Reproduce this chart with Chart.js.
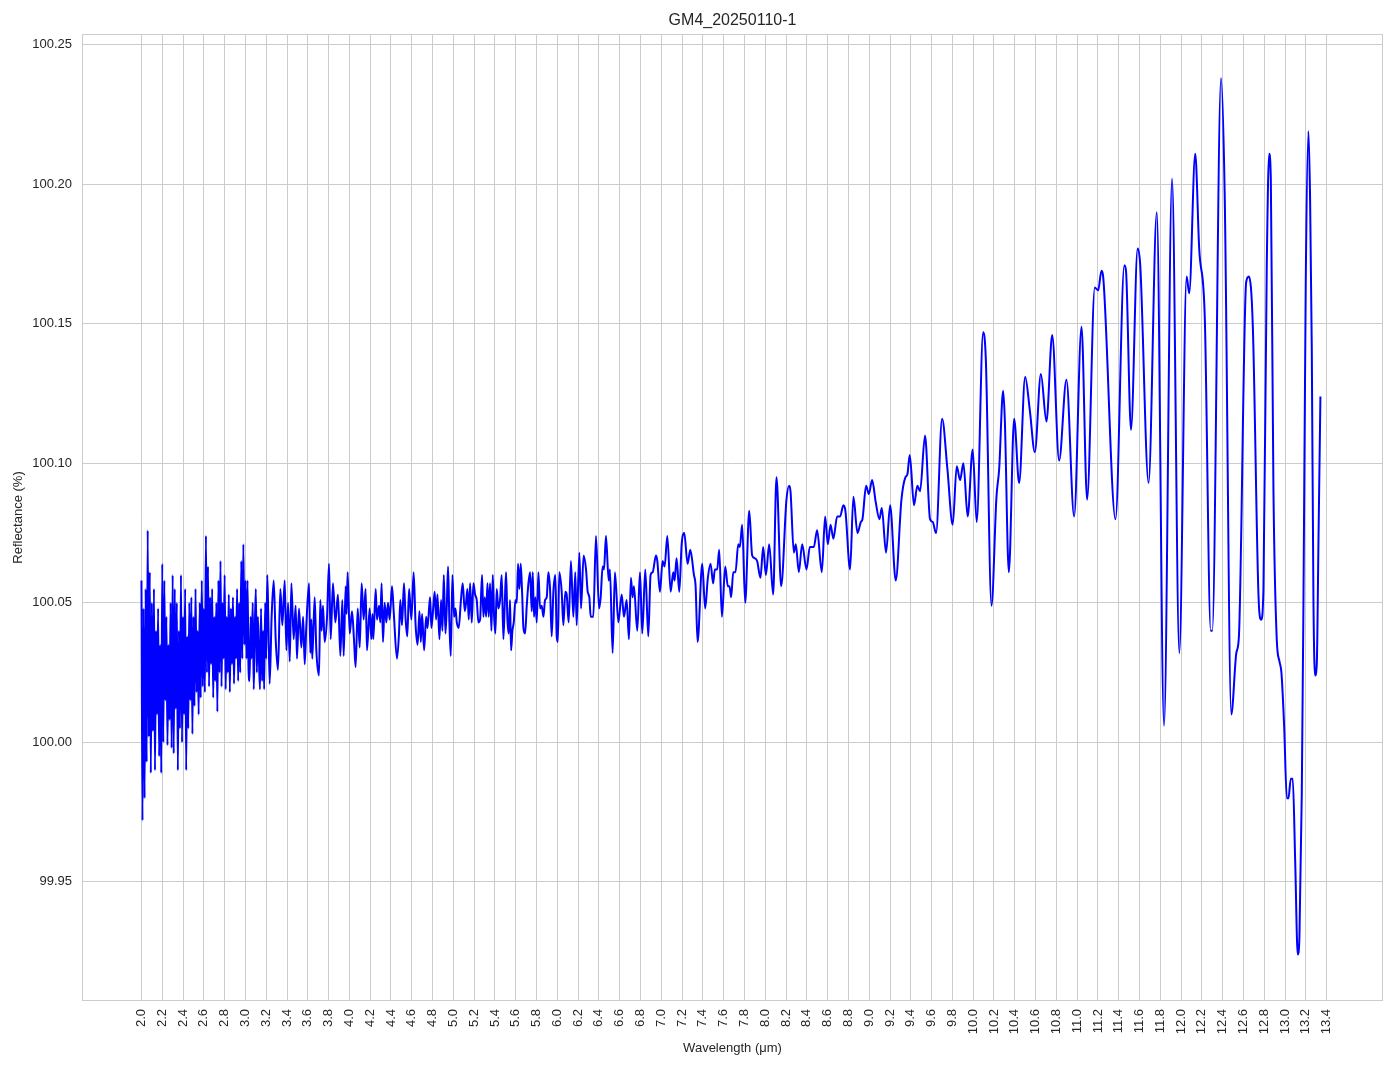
<!DOCTYPE html>
<html lang="en">
<head>
    <meta charset="UTF-8">
    <title>GM4_20250110-1</title>
    <script src="https://cdn.jsdelivr.net/npm/chart.js"></script>
    <style>
        body { margin: 0; background: #ffffff; }
    </style>
</head>
<body>
<canvas id="spectrumChart" width="1394" height="1069"></canvas>
<script>
    // Dense, noisy part of the spectrum: evenly spaced samples from 2.00 µm
    const noisyStart = 2.0;
    const noisyStep = 0.01;
    const noisyReflectance = [
        100.058, 99.972, 100.048, 99.980, 100.055, 99.993, 100.076, 100.002, 100.061, 99.989,
        100.050, 100.004, 100.055, 99.990, 100.040, 100.010, 100.048, 99.995, 100.035, 99.989,
        100.064, 100.000, 100.058, 100.015, 100.045, 99.999, 100.035, 100.008, 100.050, 99.998,
        100.060, 99.996, 100.055, 100.012, 100.050, 99.990, 100.040, 100.005, 100.060, 100.000,
        100.045, 100.010, 100.055, 99.990, 100.038, 100.005, 100.050, 100.015, 100.052, 100.003,
        100.045, 100.013, 100.055, 100.018, 100.040, 100.010, 100.050, 100.016, 100.058, 100.020,
        100.048, 100.018, 100.074, 100.025, 100.063, 100.020, 100.052, 100.028, 100.055, 100.016,
        100.045, 100.022, 100.050, 100.011, 100.058, 100.025, 100.065, 100.020, 100.050, 100.030,
        100.060, 100.019, 100.045, 100.025, 100.053, 100.018, 100.048, 100.028, 100.052, 100.021,
        100.045, 100.030, 100.055, 100.022, 100.050, 100.025, 100.065, 100.030, 100.071, 100.035,
        100.058, 100.030, 100.058, 100.026, 100.022, 100.045, 100.030, 100.050, 100.019, 100.040,
        100.055, 100.025, 100.045, 100.030, 100.019, 100.048, 100.022, 100.040, 100.019, 100.050,
        100.030, 100.060, 100.045
    ];

    // Rest of the spectrum (µm, %)
    const wavelength = [
        3.233, 3.252, 3.272, 3.291, 3.313, 3.336, 3.355, 3.378, 3.394, 3.410,
        3.426, 3.442, 3.464, 3.483, 3.496, 3.515, 3.538, 3.555, 3.570, 3.586,
        3.612, 3.624, 3.634, 3.643, 3.666, 3.682, 3.708, 3.720, 3.733, 3.746,
        3.762, 3.785, 3.804, 3.820, 3.842, 3.865, 3.890, 3.913, 3.932, 3.945,
        3.964, 3.973, 3.983, 4.003, 4.025, 4.044, 4.060, 4.080, 4.099, 4.118,
        4.137, 4.156, 4.169, 4.195, 4.211, 4.222, 4.230, 4.253, 4.265, 4.285,
        4.297, 4.310, 4.323, 4.339, 4.355, 4.371, 4.387, 4.410, 4.426, 4.458,
        4.477, 4.490, 4.506, 4.525, 4.541, 4.557, 4.574, 4.596, 4.618, 4.637,
        4.656, 4.674, 4.687, 4.699, 4.719, 4.738, 4.751, 4.776, 4.789, 4.808,
        4.821, 4.834, 4.847, 4.866, 4.882, 4.895, 4.908, 4.924, 4.937, 4.949,
        4.962, 4.975, 4.991, 5.007, 5.020, 5.033, 5.052, 5.071, 5.090, 5.110,
        5.122, 5.135, 5.148, 5.161, 5.177, 5.193, 5.209, 5.225, 5.241, 5.257,
        5.276, 5.289, 5.302, 5.315, 5.328, 5.340, 5.353, 5.366, 5.379, 5.392,
        5.404, 5.417, 5.433, 5.449, 5.465, 5.481, 5.494, 5.507, 5.520, 5.533,
        5.545, 5.555, 5.568, 5.581, 5.597, 5.610, 5.622, 5.635, 5.648, 5.661,
        5.674, 5.690, 5.706, 5.722, 5.738, 5.754, 5.763, 5.776, 5.789, 5.802,
        5.818, 5.834, 5.850, 5.866, 5.882, 5.898, 5.914, 5.930, 5.946, 5.962,
        5.981, 5.994, 6.005, 6.019, 6.042, 6.058, 6.077, 6.090, 6.109, 6.131,
        6.154, 6.173, 6.186, 6.212, 6.228, 6.253, 6.276, 6.292, 6.308, 6.321,
        6.346, 6.372, 6.401, 6.417, 6.436, 6.449, 6.468, 6.494, 6.506, 6.532,
        6.554, 6.587, 6.619, 6.641, 6.667, 6.689, 6.708, 6.724, 6.737, 6.769,
        6.795, 6.817, 6.846, 6.875, 6.897, 6.917, 6.949, 6.962, 6.987, 7.013,
        7.032, 7.058, 7.090, 7.115, 7.128, 7.147, 7.173, 7.196, 7.221, 7.253,
        7.279, 7.314, 7.330, 7.349, 7.394, 7.422, 7.448, 7.474, 7.499, 7.515,
        7.538, 7.557, 7.583, 7.615, 7.640, 7.656, 7.672, 7.692, 7.714, 7.740,
        7.756, 7.778, 7.807, 7.846, 7.874, 7.900, 7.922, 7.954, 7.980, 8.006,
        8.038, 8.076, 8.108, 8.153, 8.204, 8.230, 8.243, 8.275, 8.294, 8.323,
        8.355, 8.397, 8.429, 8.467, 8.499, 8.544, 8.576, 8.602, 8.628, 8.655,
        8.692, 8.720, 8.752, 8.771, 8.816, 8.848, 8.887, 8.919, 8.935, 8.970,
        8.996, 9.028, 9.063, 9.098, 9.121, 9.162, 9.201, 9.255, 9.310, 9.348,
        9.367, 9.390, 9.431, 9.463, 9.489, 9.537, 9.585, 9.611, 9.643, 9.701,
        9.752, 9.803, 9.842, 9.874, 9.906, 9.947, 9.995, 10.034, 10.096, 10.122,
        10.176, 10.224, 10.250, 10.288, 10.304, 10.343, 10.394, 10.442, 10.500, 10.545,
        10.593, 10.651, 10.705, 10.760, 10.827, 10.897, 10.971, 11.042, 11.096, 11.170,
        11.202, 11.234, 11.250, 11.369, 11.454, 11.470, 11.518, 11.582, 11.607, 11.687,
        11.766, 11.836, 11.913, 11.983, 12.053, 12.078, 12.136, 12.174, 12.228, 12.285,
        12.300, 12.384, 12.419, 12.483, 12.531, 12.556, 12.626, 12.652, 12.690, 12.745,
        12.770, 12.792, 12.824, 12.847, 12.863, 12.888, 12.920, 12.946, 12.965, 12.991,
        13.017, 13.033, 13.055, 13.074, 13.097, 13.122, 13.138, 13.161, 13.177, 13.199,
        13.225, 13.241, 13.257, 13.273, 13.289, 13.305, 13.321, 13.340
    ];
    const reflectance = [
        100.021, 100.045, 100.058, 100.037, 100.026, 100.055, 100.042, 100.058, 100.033, 100.050,
        100.029, 100.057, 100.037, 100.049, 100.030, 100.048, 100.034, 100.045, 100.028, 100.042,
        100.057, 100.032, 100.044, 100.030, 100.052, 100.033, 100.024, 100.051, 100.040, 100.049,
        100.036, 100.045, 100.064, 100.037, 100.057, 100.043, 100.053, 100.031, 100.051, 100.031,
        100.056, 100.046, 100.061, 100.039, 100.047, 100.037, 100.027, 100.048, 100.034, 100.057,
        100.044, 100.055, 100.033, 100.048, 100.037, 100.046, 100.037, 100.055, 100.044, 100.049,
        100.043, 100.057, 100.036, 100.050, 100.043, 100.050, 100.044, 100.056, 100.047, 100.030,
        100.039, 100.051, 100.042, 100.057, 100.044, 100.038, 100.055, 100.044, 100.061, 100.042,
        100.035, 100.047, 100.036, 100.046, 100.033, 100.045, 100.041, 100.052, 100.041, 100.049,
        100.054, 100.044, 100.053, 100.037, 100.051, 100.040, 100.060, 100.039, 100.049, 100.063,
        100.043, 100.031, 100.060, 100.045, 100.048, 100.043, 100.041, 100.050, 100.057, 100.047,
        100.050, 100.055, 100.044, 100.057, 100.043, 100.057, 100.053, 100.051, 100.043, 100.044,
        100.060, 100.045, 100.052, 100.045, 100.057, 100.045, 100.057, 100.040, 100.060, 100.045,
        100.039, 100.055, 100.048, 100.051, 100.060, 100.037, 100.049, 100.061, 100.044, 100.039,
        100.051, 100.033, 100.040, 100.043, 100.051, 100.050, 100.064, 100.055, 100.064, 100.054,
        100.041, 100.039, 100.049, 100.057, 100.061, 100.047, 100.061, 100.045, 100.052, 100.043,
        100.061, 100.048, 100.049, 100.045, 100.051, 100.052, 100.061, 100.055, 100.038, 100.054,
        100.060, 100.038, 100.036, 100.061, 100.054, 100.042, 100.054, 100.053, 100.043, 100.065,
        100.045, 100.061, 100.042, 100.068, 100.048, 100.067, 100.062, 100.054, 100.052, 100.045,
        100.045, 100.074, 100.048, 100.052, 100.063, 100.062, 100.074, 100.058, 100.062, 100.032,
        100.061, 100.043, 100.053, 100.045, 100.051, 100.037, 100.059, 100.052, 100.056, 100.040,
        100.061, 100.039, 100.062, 100.038, 100.060, 100.061, 100.067, 100.065, 100.054, 100.065,
        100.063, 100.074, 100.054, 100.061, 100.058, 100.066, 100.054, 100.071, 100.075, 100.064,
        100.069, 100.060, 100.056, 100.036, 100.064, 100.048, 100.059, 100.064, 100.057, 100.062,
        100.062, 100.069, 100.045, 100.063, 100.056, 100.056, 100.052, 100.061, 100.061, 100.071,
        100.070, 100.078, 100.050, 100.083, 100.067, 100.066, 100.065, 100.059, 100.070, 100.060,
        100.071, 100.053, 100.095, 100.056, 100.087, 100.092, 100.090, 100.068, 100.071, 100.061,
        100.071, 100.062, 100.070, 100.070, 100.076, 100.061, 100.081, 100.071, 100.078, 100.073,
        100.081, 100.081, 100.085, 100.083, 100.062, 100.088, 100.075, 100.079, 100.080, 100.092,
        100.089, 100.094, 100.086, 100.080, 100.084, 100.068, 100.085, 100.058, 100.087, 100.095,
        100.096, 100.103, 100.085, 100.092, 100.090, 100.110, 100.080, 100.079, 100.075, 100.116,
        100.098, 100.078, 100.099, 100.094, 100.100, 100.081, 100.105, 100.079, 100.147, 100.137,
        100.049, 100.088, 100.098, 100.126, 100.116, 100.061, 100.116, 100.093, 100.131, 100.119,
        100.104, 100.132, 100.115, 100.146, 100.101, 100.130, 100.081, 100.149, 100.087, 100.163,
        100.162, 100.169, 100.167, 100.080, 100.171, 100.169, 100.112, 100.177, 100.171, 100.093,
        100.190, 100.006, 100.202, 100.032, 100.167, 100.161, 100.211, 100.177, 100.152, 100.040,
        100.040, 100.238, 100.197, 100.010, 100.032, 100.038, 100.165, 100.167, 100.149, 100.052,
        100.044, 100.055, 100.171, 100.211, 100.202, 100.091, 100.037, 100.029, 100.025, 100.006,
        99.980, 99.980, 99.987, 99.987, 99.958, 99.924, 99.930, 99.982, 100.051, 100.165,
        100.219, 100.194, 100.141, 100.051, 100.024, 100.028, 100.071, 100.124
    ];

    // Tick labels
    const xTicks = [
        2.0, 2.2, 2.4, 2.6, 2.8, 3.0, 3.2, 3.4, 3.6, 3.8, 4.0, 4.2, 4.4, 4.6, 4.8,
        5.0, 5.2, 5.4, 5.6, 5.8, 6.0, 6.2, 6.4, 6.6, 6.8, 7.0, 7.2, 7.4, 7.6, 7.8,
        8.0, 8.2, 8.4, 8.6, 8.8, 9.0, 9.2, 9.4, 9.6, 9.8, 10.0, 10.2, 10.4, 10.6, 10.8,
        11.0, 11.2, 11.4, 11.6, 11.8, 12.0, 12.2, 12.4, 12.6, 12.8, 13.0, 13.2, 13.4
    ];
    const yTicks = [99.95, 100.00, 100.05, 100.10, 100.15, 100.20, 100.25];

    const points = noisyReflectance
        .map((r, i) => ({ x: noisyStart + i * noisyStep, y: r }))
        .concat(wavelength.map((w, i) => ({ x: w, y: reflectance[i] })));

    // light grey box round the plot area, like the seaborn whitegrid frame
    const frame = {
        id: 'frame',
        beforeDatasetsDraw(chart) {
            const { ctx, chartArea: a } = chart;
            ctx.save();
            ctx.strokeStyle = '#cccccc';
            ctx.lineWidth = 1;
            ctx.strokeRect(a.left + 0.5, a.top + 0.5, a.right - a.left - 1, a.bottom - a.top - 1);
            ctx.restore();
        }
    };

    Chart.defaults.font.family = '"Liberation Sans", Arial, sans-serif';
    Chart.defaults.font.size = 13;
    Chart.defaults.color = '#262626';

    new Chart(document.getElementById('spectrumChart'), {
        type: 'line',
        data: {
            datasets: [{
                data: points,
                borderColor: '#0000ff',
                borderWidth: 2,
                pointRadius: 0,
                fill: false,
                cubicInterpolationMode: 'monotone'
            }]
        },
        options: {
            responsive: false,
            animation: false,
            layout: { padding: { left: 0, right: 11, top: 0, bottom: 0 } },
            plugins: {
                legend: { display: false },
                tooltip: { enabled: false },
                title: {
                    display: true,
                    text: 'GM4_20250110-1',
                    fullSize: false,
                    color: '#262626',
                    font: { size: 16, weight: 'normal' },
                    padding: { top: 11, bottom: 3.8 }
                }
            },
            scales: {
                x: {
                    type: 'linear',
                    min: 1.428,
                    max: 13.942,
                    afterBuildTicks: s => { s.ticks = xTicks.map(v => ({ value: v })); },
                    afterFit: s => { s.height = 68; },
                    ticks: {
                        autoSkip: false,
                        minRotation: 90,
                        maxRotation: 90,
                        padding: 8,
                        callback: v => v.toFixed(1)
                    },
                    grid: { color: '#cccccc', drawTicks: false },
                    border: { display: false },
                    title: {
                        display: true,
                        text: 'Wavelength (μm)',
                        padding: { top: 4, bottom: 13 }
                    }
                },
                y: {
                    min: 99.9073,
                    max: 100.2539,
                    afterBuildTicks: s => { s.ticks = yTicks.map(v => ({ value: v })); },
                    afterFit: s => { s.width = 82; },
                    ticks: {
                        padding: 10,
                        callback: v => v.toFixed(2)
                    },
                    grid: { color: '#cccccc', drawTicks: false },
                    border: { display: false },
                    title: {
                        display: true,
                        text: 'Reflectance (%)',
                        padding: { top: 11, bottom: 0 }
                    }
                }
            }
        },
        plugins: [frame]
    });
</script>
</body>
</html>
